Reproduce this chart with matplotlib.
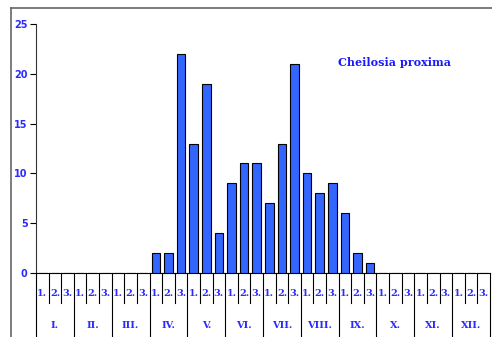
import matplotlib
matplotlib.use("Agg")
import matplotlib.pyplot as plt
from matplotlib.lines import Line2D

months = ["I.", "II.", "III.", "IV.", "V.", "VI.", "VII.", "VIII.", "IX.", "X.", "XI.", "XII."]
decades = ["1.", "2.", "3."]
values = [0, 0, 0,  0, 0, 0,  0, 0, 0,
          2, 2, 22,  13, 19, 4,  9, 11, 11,
          7, 13, 21,  10, 8, 9,  6, 2, 1,
          0, 0, 0,  0, 0, 0,  0, 0, 0]
yticks = [0, 5, 10, 15, 20, 25]
title = "Cheilosia proxima"

W, H = 492, 337
fig = plt.figure(figsize=(W / 100, H / 100), dpi=100)
L, R, B, T = 36, 490, 273, 24
ax = fig.add_axes([L / W, 1 - B / H, (R - L) / W, (B - T) / H])

blue_txt = "#2b2bff"
x = list(range(len(values)))
ax.bar(x, values, width=0.68, color="#3366ff", edgecolor="black", linewidth=0.8, zorder=3)

ax.set_xlim(-0.5, len(values) - 0.5)
ax.set_ylim(0, 25)
for s in ["top", "right"]:
    ax.spines[s].set_visible(False)
ax.spines["left"].set_color("#333333")
ax.spines["bottom"].set_color("black")
ax.set_yticks(yticks)
ax.set_yticklabels([str(v) for v in yticks], fontsize=7, fontweight="bold",
                   color=blue_txt, family="DejaVu Sans")
ax.tick_params(axis="y", length=4, width=0.8, pad=2)
ax.set_xticks([])

tr = ax.get_xaxis_transform()
short_y = -(303 - B) / (B - T)
long_y = -(337 - B) / (B - T)
lab1_y = -(293 - B) / (B - T)
lab2_y = -(325 - B) / (B - T)
n = len(values)
for i in range(n + 1):
    xb = i - 0.5
    yb = long_y if i % 3 == 0 else short_y
    ax.plot([xb, xb], [0, yb], transform=tr, color="black", lw=0.8, clip_on=False)
for i in range(n):
    ax.text(i, lab1_y, decades[i % 3], transform=tr, ha="center", va="center",
            fontsize=7, fontweight="bold", color=blue_txt, family="DejaVu Serif")
for m, name in enumerate(months):
    ax.text(3 * m + 1, lab2_y, name, transform=tr, ha="center", va="center",
            fontsize=7, fontweight="bold", color=blue_txt, family="DejaVu Serif")

ax.text(395 / W, 1 - 63 / H, title, transform=fig.transFigure, ha="center", va="center",
        fontsize=8, fontweight="bold", color="#1a1aff", family="DejaVu Serif")

# outer frame
fig.add_artist(Line2D([11 / W, 11 / W], [0, 1 - 8 / H], transform=fig.transFigure,
                      color="#666666", lw=1.2))
fig.add_artist(Line2D([11 / W, 1], [1 - 8 / H, 1 - 8 / H], transform=fig.transFigure,
                      color="#666666", lw=1.2))

fig.savefig("out.png", dpi=100)
